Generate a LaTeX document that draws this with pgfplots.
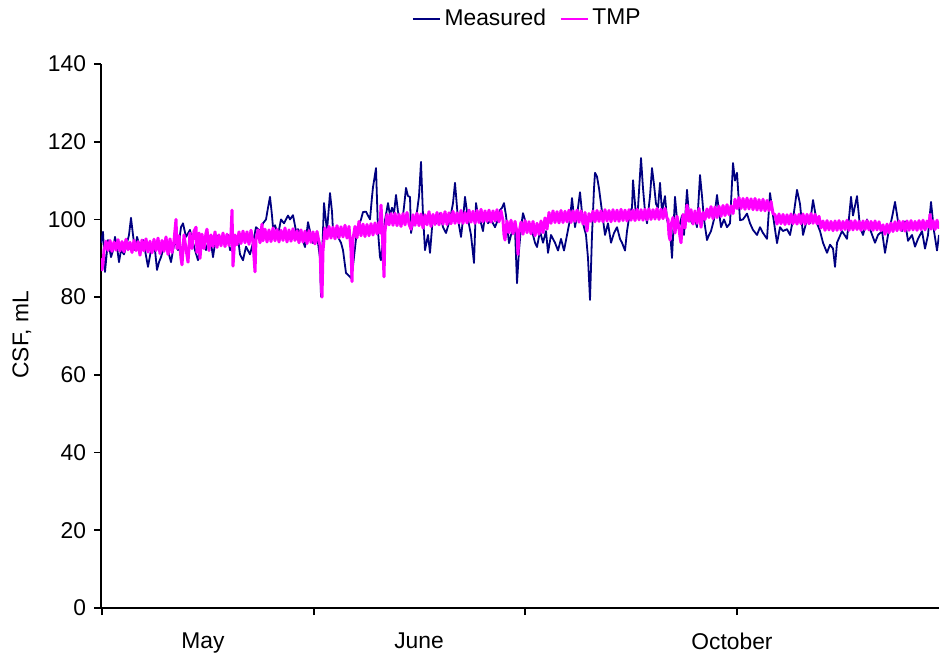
\documentclass[border=0pt]{standalone}
\usepackage{pgfplots}
\pgfplotsset{compat=1.18}
\usepackage{fontspec}
\setmainfont{Liberation Sans}
\definecolor{navyc}{RGB}{0,0,128}
\definecolor{magc}{RGB}{255,0,255}
\begin{document}
\fontsize{11.4}{13.7}\selectfont
\begin{tikzpicture}
\begin{axis}[
 at={(0,0)}, anchor=south west,
 scale only axis, width=419pt, height=272pt,
 xmin=101, xmax=939, ymin=0, ymax=140,
 axis lines=left, axis line style={-, line width=1pt},
 tick align=outside, major tick length=3.5pt,
 tick style={black, line width=0.8pt},
 ytick={0,20,40,60,80,100,120,140},
 xtick={102,314,525,737}, xticklabels={},
 extra x ticks={203,419,732},
 extra x tick labels={May,June,October},
 extra x tick style={major tick length=0pt, tick label style={yshift=-8.5pt}},
 /pgf/number format/assume math mode=true,
 every tick label/.append style={font=\fontsize{11.4}{13.7}\selectfont},
 ylabel={CSF, mL},
 every axis y label/.style={at={(axis description cs:-0.0943,0.502)}, rotate=90, anchor=center, font=\fontsize{11.4}{13.7}\selectfont},
 legend style={at={(axis description cs:0.51,1.083)}, anchor=center, draw=none, fill=none, legend columns=2,
   font=\fontsize{11.4}{13.7}\selectfont, /tikz/every even column/.append style={column sep=5pt}},
 legend image code/.code={\draw[#1, line width=0.7pt] (0pt,0pt) -- (13.5pt,0pt);},
]
\addplot[navyc, line width=0.9pt, line join=round] coordinates {
(101,94) (103,96.8) (105,86.5) (108,94.7) (111,90.3) (113,92) (115,95.5) (117,93) (119,89.0) (121,92.1)
(124,91) (126,92.9) (129,96) (131,100.4) (133,96) (135,92.1) (137,95.5) (140,92.9) (143,94.7) (145,92.1)
(148,87.8) (151,92.1) (154,94.7) (157,87.0) (159,89) (161,90.3) (164,93) (166,95.5) (168,92) (171,89.0)
(173,92) (175,94.7) (178,92.1) (181,98.0) (183,99.0) (186,95.5) (190,97.3) (192,95) (195,92.1) (198,89.5)
(200,92) (203,94.7) (206,92.1) (209,95) (211,93.9) (213,90.3) (216,95.5) (219,96) (221,93.9) (225,94.7)
(228,96) (230,92.1) (233,93) (235,94.7) (238,95.2) (240,91) (243,89.5) (246,93) (250,91) (253,94)
(256,98) (260,97) (263,99) (266,100) (268,103) (270,105.8) (272,101) (273,97.9) (275,98.5) (278,96)
(281,100) (284,99) (288,101) (290,100) (293,101.1) (296,97) (298,97.5) (301,96) (305,92.9) (308,99.3)
(310,97) (313,93.9) (316,95) (318,94) (320,90) (321,80.1) (322,90) (324,104.2) (327,97) (330,106.8)
(332,102) (333,97) (336,96) (338,95.5) (341,94) (343,92.1) (346,86.2) (349,85.5) (351,84.9) (353,88)
(356,95) (358,98) (361,100) (363,101.9) (366,102) (368,101) (370,100) (372,105.8) (373,108.3) (376,113.2)
(378,97) (380,90.3) (381,89.5) (383,95) (385,99.8) (388,104.2) (390,101) (392,103) (394,101.6) (396,106.3)
(398,102) (400,100) (402,99) (404,103.2) (406,108.1) (408,106) (410,105.8) (411,96.5) (413,99) (415,100)
(417,102) (419,106) (421,114.8) (423,101) (425,92.1) (428,96) (430,91.4) (433,101) (436,99) (440,101.6)
(443,98) (446,96.5) (450,100) (453,104.2) (455,109.4) (458,100) (461,95.5) (463,100) (465,105.8) (468,100)
(471,96) (474,88.8) (476,104.2) (478,101) (480,100) (483,97) (485,101.1) (488,99) (491,100) (495,98)
(498,100) (500,102.4) (502,103) (504,104.2) (506,101) (509,93.9) (511,96) (513,97) (515,97.5) (517,83.6)
(519,92) (521,98) (523,101.6) (526,99) (530,98) (533,96) (535,94) (537,92.9) (540,97) (543,94)
(546,97) (548,91.4) (551,96) (555,94) (558,92) (561,95) (564,92) (567,96) (570,100) (572,105.5)
(575,98) (577,101) (580,107) (583,99) (586,96) (588,90) (590,79.3) (592,96) (594,108) (595,112)
(597,111) (599,108) (602,102) (605,96) (608,99) (611,94) (614,96.5) (617,98) (620,95) (622,94)
(625,92) (627,97) (630,102) (632,103) (633,110.1) (636,101) (638,103) (641,115.8) (643,108) (645,102)
(647,99) (650,106) (652,113.2) (654,109) (656,104) (658,103) (660,109.4) (662,102) (665,106) (667,100)
(670,97) (672,90.1) (675,105.8) (677,100) (679,98) (682,101) (684,96) (687,107.6) (689,101) (692,99)
(695,100) (697,98) (700,111.4) (702,106) (704,100) (707,94.7) (709,96) (711,97) (714,100) (717,106.3)
(719,102) (721,98) (724,100) (727,98) (730,99) (733,114.5) (735,110) (737,112) (740,99.8) (743,100)
(747,101.5) (750,99) (753,97.3) (757,96) (760,98) (763,96.5) (767,95) (770,106.8) (773,101) (777,93.9)
(780,98) (783,97) (787,97.5) (790,96) (793,100) (797,107.6) (800,104) (803,96) (807,100) (810,99)
(813,105) (817,99) (820,97) (823,94) (827,91.4) (830,93.5) (833,92.5) (835,87.8) (837,94) (842,97)
(847,95) (851,105.8) (853,101) (857,106) (860,98) (863,96) (867,100) (870,97.5) (875,94) (878,96)
(882,97) (885,91.4) (888,96) (892,100.5) (895,104.5) (898,99.5) (902,97) (905,99.5) (908,94.5) (912,96)
(915,93) (918,95) (922,97) (925,92.5) (928,96) (931,104.5) (934,97) (937,92) (939,96)
};
\addlegendentry{Measured}
\addplot[magc, line width=1.5pt, line join=round] coordinates {
(101,90) (102,87) (103,88.5) (104,92) (106,94.4) (108,92) (110,94.6) (112,91.8) (114,94.2) (116,92.1)
(118,94.8) (120,91.9) (122,94.3) (124,91.7) (126,94.9) (128,92.2) (130,94.1) (132,91.5) (134,94.6) (136,92)
(138,94.3) (140,90.8) (142,94.7) (144,91.9) (146,95) (148,91.6) (150,94.4) (152,91.4) (154,94.9) (156,92)
(158,95.2) (160,91.2) (162,94.6) (164,91.8) (166,95.5) (168,91) (170,95) (172,91.5) (174,94.5) (176,100)
(177,92.5) (179,95.8) (181,90) (182,88.3) (184,96) (186,92.5) (188,89) (190,96.5) (192,92.5) (194,97)
(196,98) (197,91.5) (199,96.5) (200,90) (202,96.2) (204,92.5) (206,96.5) (207,97.5) (209,92) (211,96)
(213,93) (215,96.8) (217,92.8) (219,96) (221,93.2) (223,96.5) (225,93) (227,96.2) (229,93.3) (231,96.4)
(232,102.4) (233,88) (235,96) (237,93.5) (239,96.8) (241,93.8) (243,97) (245,94) (247,96.8) (249,93.6)
(251,97.2) (253,94) (255,86.5) (256,95) (258,97.3) (260,94) (262,98.8) (263,94.5) (265,97.5) (267,94.2)
(269,97.3) (271,94.3) (273,97.8) (275,94.5) (277,97.4) (279,94.2) (281,97.2) (283,94.6) (285,97.8) (287,94.2)
(289,97.3) (291,94.4) (293,97.6) (295,94.6) (297,97.1) (299,94) (301,97.3) (303,94.2) (305,97) (307,93.8)
(309,97.1) (311,94.1) (313,96.8) (315,93.7) (317,96.9) (319,94.2) (320,93.5) (321,84) (322,80) (323,92)
(325,97.8) (327,95) (329,98.2) (331,95.2) (333,98) (335,95) (337,98.4) (339,95.3) (341,98.1) (343,95.5)
(345,98.5) (347,95.2) (349,98.2) (351,92) (352,84) (353,95) (355,98.2) (357,95.3) (359,99.5) (361,95.8)
(363,98.8) (365,95.6) (367,98.7) (369,95.8) (371,98.9) (373,96) (375,99.1) (377,96.3) (379,99.3) (380,96.5)
(381,103.7) (382,99) (383,92) (384,85.2) (385,97) (387,101.3) (389,98.6) (391,101.5) (393,98.5) (395,101.6)
(397,98.4) (399,101.3) (401,98.2) (403,101.5) (405,98.6) (407,101.8) (409,98.8) (411,97.5) (413,101.2) (415,98.5)
(417,101.6) (419,98.4) (421,101.4) (423,97.8) (425,101.2) (427,98.6) (429,102) (431,98.2) (433,101.3) (435,98.7)
(437,101.8) (439,98.6) (441,101.6) (443,98.8) (445,102) (447,98.7) (449,101.7) (451,98.9) (453,102.1) (455,99)
(457,101.7) (459,99.1) (461,102.3) (463,99) (465,101.8) (467,99.1) (469,102.4) (471,99.3) (473,102.1) (475,99)
(477,102.3) (479,99.2) (481,102.6) (483,99.4) (485,102.2) (487,99.5) (489,102.4) (491,99.3) (493,102.2) (495,99.6)
(497,102.5) (499,99.4) (501,102.2) (503,99.7) (504,96) (505,94.7) (507,99.6) (509,96.6) (511,99.8) (513,96.3)
(515,99.5) (517,96.5) (518,91) (519,96.5) (521,99.3) (523,96.2) (525,99.7) (527,96.6) (529,99.4) (531,96.3)
(533,99.5) (535,95.8) (537,99) (539,96.2) (541,99.6) (543,96.6) (545,100.4) (547,97.5) (549,101.8) (551,99)
(553,102.2) (555,99.2) (557,102) (559,99.1) (561,102.3) (563,99.2) (565,102.1) (567,99.4) (569,102.4) (571,99.2)
(573,102.2) (575,99.5) (577,102.4) (579,99.3) (581,102.2) (583,98.8) (585,101.8) (587,97) (589,101.5) (591,99.5)
(593,102.2) (595,99.4) (597,102.3) (599,99.5) (601,102.2) (603,99.4) (605,102.5) (607,99.6) (609,102.3) (611,99.4)
(613,102.5) (615,99.6) (617,102.4) (619,99.5) (621,102.6) (623,99.7) (625,102.4) (627,99.6) (629,102.5) (631,99.8)
(633,102.4) (635,99.7) (637,102.6) (639,99.9) (641,102.5) (643,99.8) (645,102.6) (647,99.9) (649,102.7) (651,100)
(653,102.5) (655,100.1) (657,102.8) (659,100) (661,102.6) (663,100.2) (665,102.8) (667,100.3) (668,100) (669,96)
(670,94.7) (671,98.5) (673,100.5) (675,96.5) (677,100.8) (679,97.5) (680,95.5) (681,94) (683,101.3) (685,97.8)
(687,103.7) (689,99.5) (691,102.5) (693,98.8) (695,102.2) (697,99) (699,102.8) (701,98) (703,101.8) (705,100)
(707,102.7) (709,100.5) (711,103.3) (713,100.2) (715,103.2) (717,100.5) (719,103.4) (721,100.8) (723,103.6) (725,101)
(727,103.8) (729,101.2) (731,103.5) (733,101.5) (735,105.2) (737,102.8) (739,105.6) (741,102.8) (743,105.4) (745,102.6)
(747,105.5) (749,102.7) (751,105.3) (753,102.5) (755,105.4) (757,102.4) (759,105.1) (761,102.3) (763,105.2) (765,102.2)
(767,104.9) (769,102.3) (771,104.6) (773,101.5) (775,101.2) (777,98.8) (779,101.4) (781,98.9) (783,101.3) (785,98.7)
(787,101.2) (789,98.8) (791,101.4) (793,98.9) (795,101.2) (797,98.8) (799,101.3) (801,98.9) (803,101.4) (805,98.8)
(807,101.3) (809,98.9) (811,101.5) (813,99) (815,101.3) (817,98.9) (819,100.8) (821,97.8) (823,99.6) (825,97.2)
(827,99.7) (829,97.3) (831,99.5) (833,97.1) (835,99.6) (837,97.2) (839,99.7) (841,97.3) (843,99.5) (845,97.4)
(847,99.8) (849,97.2) (851,99.6) (853,97.3) (855,99.7) (857,97.4) (859,99.5) (861,97.2) (863,99.6) (865,97.4)
(867,99.7) (869,97.3) (871,99.5) (873,97.2) (875,99.6) (877,97.3) (879,99.4) (881,97.1) (883,98.6) (885,96.2)
(887,98.8) (889,96.6) (891,99.1) (893,96.9) (895,99.4) (897,97.1) (899,99.6) (901,97.2) (903,99.5) (905,97)
(907,99.6) (909,97.2) (911,99.7) (913,97.3) (915,99.5) (917,97.2) (919,99.7) (921,97.4) (923,99.8) (925,97.3)
(927,99.6) (929,98) (930,101.3) (931,97.5) (933,99.7) (935,97.4) (937,99.8) (939,97.6)
};
\addlegendentry{TMP}
\end{axis}
\pgfresetboundingbox
\useasboundingbox (-50.5pt,-23pt) rectangle (419.5pt,304pt);
\end{tikzpicture}
\end{document}
